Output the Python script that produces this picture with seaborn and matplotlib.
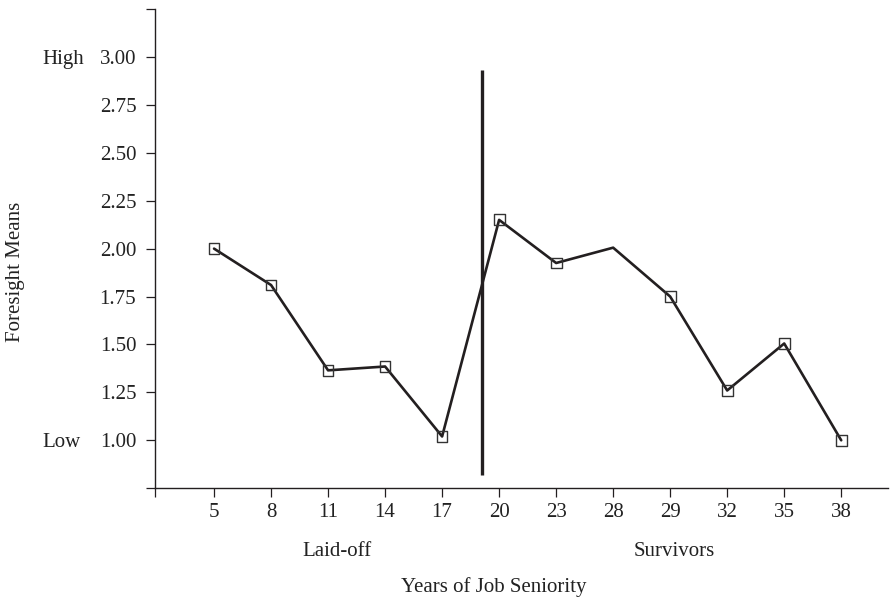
import numpy as np
import pandas as pd
import matplotlib
matplotlib.use("Agg")
import matplotlib.pyplot as plt
import matplotlib.transforms as mtransforms
import seaborn as sns

# Foresight means by years of job seniority
seniority = ["5", "8", "11", "14", "17", "20", "23", "28", "29", "32", "35", "38"]
foresight = [2.00, 1.81, 1.365, 1.385, 1.02, 2.15, 1.925, 2.005, 1.75, 1.26, 1.505, 1.00]
unmarked = ["28"]
groups = ["Laid-off", "Survivors"]
ytick_values = [0.75, 1.00, 1.25, 1.50, 1.75, 2.00, 2.25, 2.50, 2.75, 3.00, 3.25]
ytick_labels = ["", "1.00", "1.25", "1.50", "1.75", "2.00", "2.25", "2.50", "2.75", "3.00", ""]
scale_ends = {"High": 3.00, "Low": 1.00}

df = pd.DataFrame({"seniority": seniority, "foresight": foresight})
df["pos"] = np.arange(len(df))
marked = df[~df["seniority"].isin(unmarked)]

sns.set_theme(style="ticks")
plt.rcParams["font.family"] = ["Liberation Serif", "DejaVu Serif"]
ink = "#231f20"
fs = 15

fig = plt.figure(figsize=(8.91, 6.02), dpi=100)
ax = fig.add_axes([0.174, 0.189, 0.8226, 0.796])

sns.lineplot(data=df, x="pos", y="foresight", ax=ax, color=ink, lw=1.9,
             zorder=3)
sns.scatterplot(data=marked, x="pos", y="foresight", ax=ax, marker="s",
                s=60, facecolor="none", edgecolor="#333333", linewidth=1.0,
                zorder=4)

# divider between the laid-off and surviving groups
split = seniority.index("17") + 0.70
ax.plot([split, split], [0.82, 2.933], color=ink, lw=2.4, zorder=2,
        solid_capstyle="butt")

ax.set_xlim(-1.035, 11.82)
ax.set_ylim(0.755, 3.25)

ax.set_xticks([-1.035] + list(df["pos"]))
ax.set_xticklabels([""] + seniority)
ax.set_yticks(ytick_values)
ax.set_yticklabels(ytick_labels)
ax.tick_params(axis="both", direction="out", length=6.5, width=0.9,
               color=ink, labelsize=fs, labelcolor="#222222")
ax.tick_params(axis="x", pad=4)
ax.tick_params(axis="y", pad=7)

for side in ("top", "right"):
    ax.spines[side].set_visible(False)
for side in ("left", "bottom"):
    ax.spines[side].set_color(ink)
    ax.spines[side].set_linewidth(1.0)

ax.set_xlabel("")
ax.set_ylabel("")

# High / Low anchors beside the scale
blend = mtransforms.blended_transform_factory(fig.transFigure, ax.transData)
for word, val in scale_ends.items():
    ax.text(0.048, val, word, transform=blend, ha="left",
            va="center_baseline", fontsize=fs, color="#222222")

# group captions under the axis
gblend = mtransforms.blended_transform_factory(ax.transData, fig.transFigure)
ax.text(2.16, 1 - 551 / 602, groups[0], transform=gblend, ha="center",
        va="center", fontsize=fs, color="#222222")
ax.text(8.07, 1 - 551 / 602, groups[1], transform=gblend, ha="center",
        va="center", fontsize=fs, color="#222222")

fig.text(494 / 891, 1 - 587 / 602, "Years of Job Seniority", ha="center",
         va="center", fontsize=fs, color="#222222")
fig.text(16 / 891, 1 - 272 / 602, "Foresight Means", rotation=90,
         ha="center", va="center", fontsize=fs, color="#222222")

fig.savefig("out.png", dpi=100, facecolor="white")
